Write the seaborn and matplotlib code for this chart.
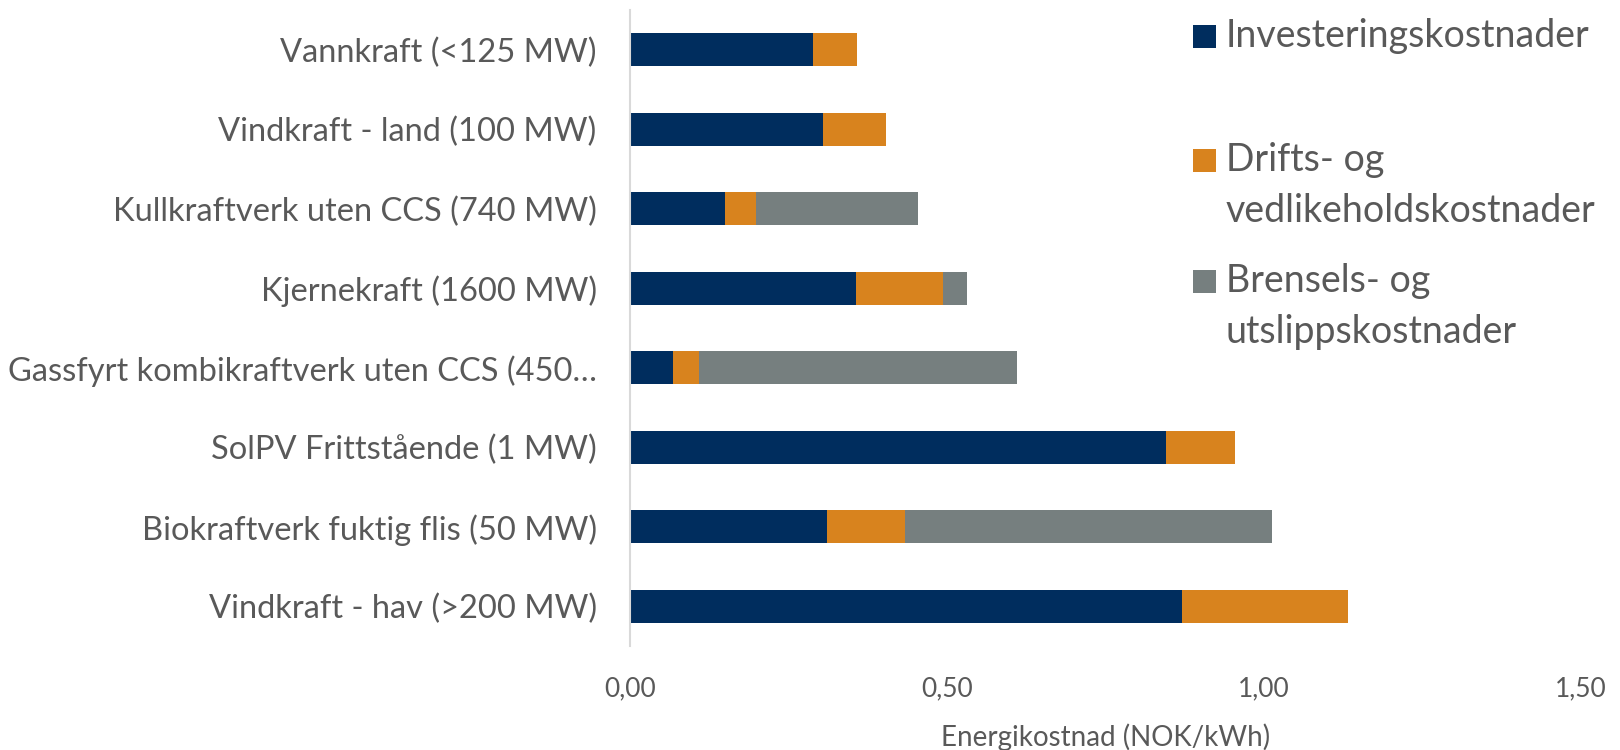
import matplotlib
matplotlib.use("Agg")
import matplotlib.pyplot as plt
from matplotlib.patches import Rectangle
import seaborn as sns
import pandas as pd
import numpy as np

categories = [
    "Vannkraft (<125 MW)",
    "Vindkraft - land (100 MW)",
    "Kullkraftverk uten CCS (740 MW)",
    "Kjernekraft (1600 MW)",
    "Gassfyrt kombikraftverk uten CCS (450…",
    "SolPV Frittstående (1 MW)",
    "Biokraftverk fuktig flis (50 MW)",
    "Vindkraft - hav (>200 MW)",
]
investering = [0.288, 0.304, 0.150, 0.356, 0.068, 0.846, 0.311, 0.870]
drift = [0.070, 0.099, 0.048, 0.138, 0.041, 0.108, 0.123, 0.262]
brensel = [0.0, 0.0, 0.257, 0.038, 0.501, 0.0, 0.579, 0.0]
series_names = ["Investeringskostnader", "Drifts- og\nvedlikeholdskostnader", "Brensels- og\nutslippskostnader"]
x_ticks = [0.0, 0.5, 1.0, 1.5]
x_tick_labels = ["0,00", "0,50", "1,00", "1,50"]
x_label = "Energikostnad (NOK/kWh)"

colors = ["#002D5E", "#D8831E", "#767F7F"]
text_color = "#595959"

sns.set_theme(style="white")
plt.rcParams["font.family"] = ["Lato", "DejaVu Sans"]

df = pd.DataFrame({
    "kategori": categories,
    "inv": investering,
    "drift": drift,
    "brensel": brensel,
})
df["c1"] = df["inv"]
df["c2"] = df["inv"] + df["drift"]
df["c3"] = df["inv"] + df["drift"] + df["brensel"]

fig = plt.figure(figsize=(16.2, 7.5), dpi=100)
ax = fig.add_axes([630 / 1620, 1 - 646 / 750, (1581 - 630) / 1620, (646 - 10) / 750])

for col, c in zip(["c3", "c2", "c1"], [colors[2], colors[1], colors[0]]):
    sns.barplot(data=df, x=col, y="kategori", order=categories, color=c,
                orient="h", width=0.42, ax=ax, saturation=1, errorbar=None,
                edgecolor="none", linewidth=0)

ax.set_xlim(0, 1.5)
ax.set_ylim(len(categories) - 0.5, -0.5)
ax.set_xticks(x_ticks)
ax.set_xticklabels(x_tick_labels)
ax.set_ylabel("")
ax.set_xlabel(x_label, color=text_color, fontsize=20, labelpad=16)
ax.tick_params(axis="y", length=0, pad=24, labelsize=23.5, labelcolor=text_color)
ax.tick_params(axis="x", length=0, pad=22, labelsize=19, labelcolor=text_color)
for s in ["top", "right", "bottom"]:
    ax.spines[s].set_visible(False)
ax.spines["left"].set_color("#D9D9D9")
ax.spines["left"].set_linewidth(1.5)
ax.grid(False)
ax.set_facecolor("none")

# Legend (manual layout to mimic Excel's legend)
legend_rows = [
    (36, [series_names[0]]),
    (160, series_names[1].split("\n")),
    (281, series_names[2].split("\n")),
]
for (y_px, lines), c in zip(legend_rows, colors):
    sq = 23
    fig.patches.append(Rectangle((1193 / 1620, 1 - (y_px + sq / 2) / 750), sq / 1620, sq / 750,
                                 transform=fig.transFigure, facecolor=c, edgecolor="none"))
    for i, line in enumerate(lines):
        fig.text(1226 / 1620, 1 - (y_px + i * 51) / 750, line, fontsize=27,
                 color=text_color, va="center", ha="left")

fig.savefig("out.png", dpi=100)
